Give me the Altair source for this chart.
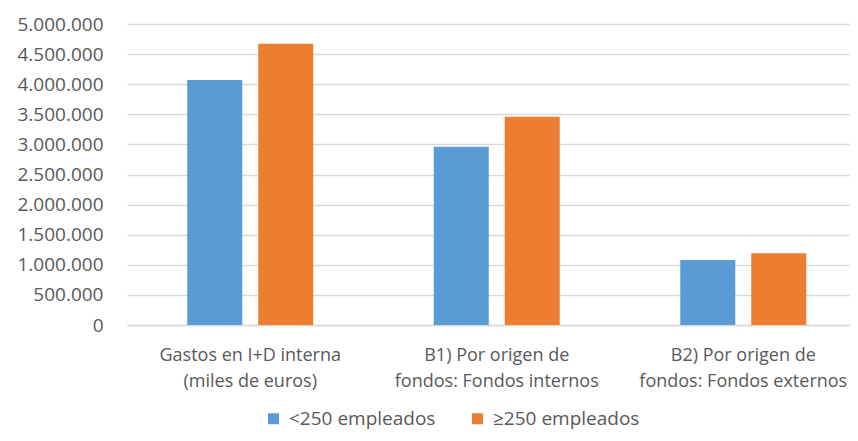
import altair as alt
import pandas as pd

categories = [
    "Gastos en I+D interna|(miles de euros)",
    "B1) Por origen de|fondos: Fondos internos",
    "B2) Por origen de|fondos: Fondos externos",
]
series = ["<250 empleados", "≥250 empleados"]
small = [4070000, 2960000, 1080000]
large = [4670000, 3460000, 1190000]
colors = ["#5B9BD5", "#ED7D31"]
y_ticks = [0, 500000, 1000000, 1500000, 2000000, 2500000, 3000000, 3500000, 4000000, 4500000, 5000000]

rows = []
for c, a, b in zip(categories, small, large):
    rows.append({"Categoria": c, "Serie": series[0], "Valor": a})
    rows.append({"Categoria": c, "Serie": series[1], "Valor": b})
df = pd.DataFrame(rows)

FONT = "Open Sans"
GREY = "#595959"
FS = 19

chart = alt.Chart(df).mark_bar().encode(
    x=alt.X(
        "Categoria:N",
        sort=categories,
        scale=alt.Scale(paddingInner=0.489, paddingOuter=0.2444, range=[0, 739.5]),
        axis=alt.Axis(
            title=None,
            labelAngle=0,
            labelExpr="split(datum.value, '|')",
            labelFont=FONT,
            labelFontSize=18,
            labelColor=GREY,
            labelLineHeight=26,
            labelPadding=21,
            labelLimit=400,
            ticks=False,
            domainColor="#d9d9d9",
            domainWidth=1.5,
            labelBaseline="top",
        ),
    ),
    xOffset=alt.XOffset(
        "Serie:N",
        sort=series,
        scale=alt.Scale(paddingInner=0.225, paddingOuter=0),
    ),
    y=alt.Y(
        "Valor:Q",
        scale=alt.Scale(domain=[0, 5000000], nice=False),
        axis=alt.Axis(
            title=None,
            values=y_ticks,
            format=",d",
            labelFont=FONT,
            labelFontSize=FS,
            labelColor=GREY,
            labelPadding=24,
            ticks=False,
            domain=False,
            gridColor="#d9d9d9",
            gridWidth=1.5,
        ),
    ),
    color=alt.Color(
        "Serie:N",
        sort=series,
        scale=alt.Scale(domain=series, range=colors),
        legend=alt.Legend(
            title=None,
            orient="none",
            direction="horizontal",
            legendX=137,
            legendY=385,
            symbolType="square",
            symbolSize=121,
            symbolStrokeWidth=0,
            labelFont=FONT,
            labelFontSize=FS,
            labelColor=GREY,
            labelOffset=6,
            labelLimit=300,
            columnPadding=32,
        ),
    ),
).properties(
    width=723,
    height=301,
    autosize=alt.AutoSizeParams(type="none"),
    padding={"left": 119, "top": 16, "right": 0, "bottom": 108},
).configure_view(stroke=None)

chart.save(
    "out.html",
    embed_options={
        "renderer": "svg",
        "actions": False,
        "formatLocale": {
            "decimal": ",",
            "thousands": ".",
            "grouping": [3],
            "currency": ["", " €"],
        },
    },
)
